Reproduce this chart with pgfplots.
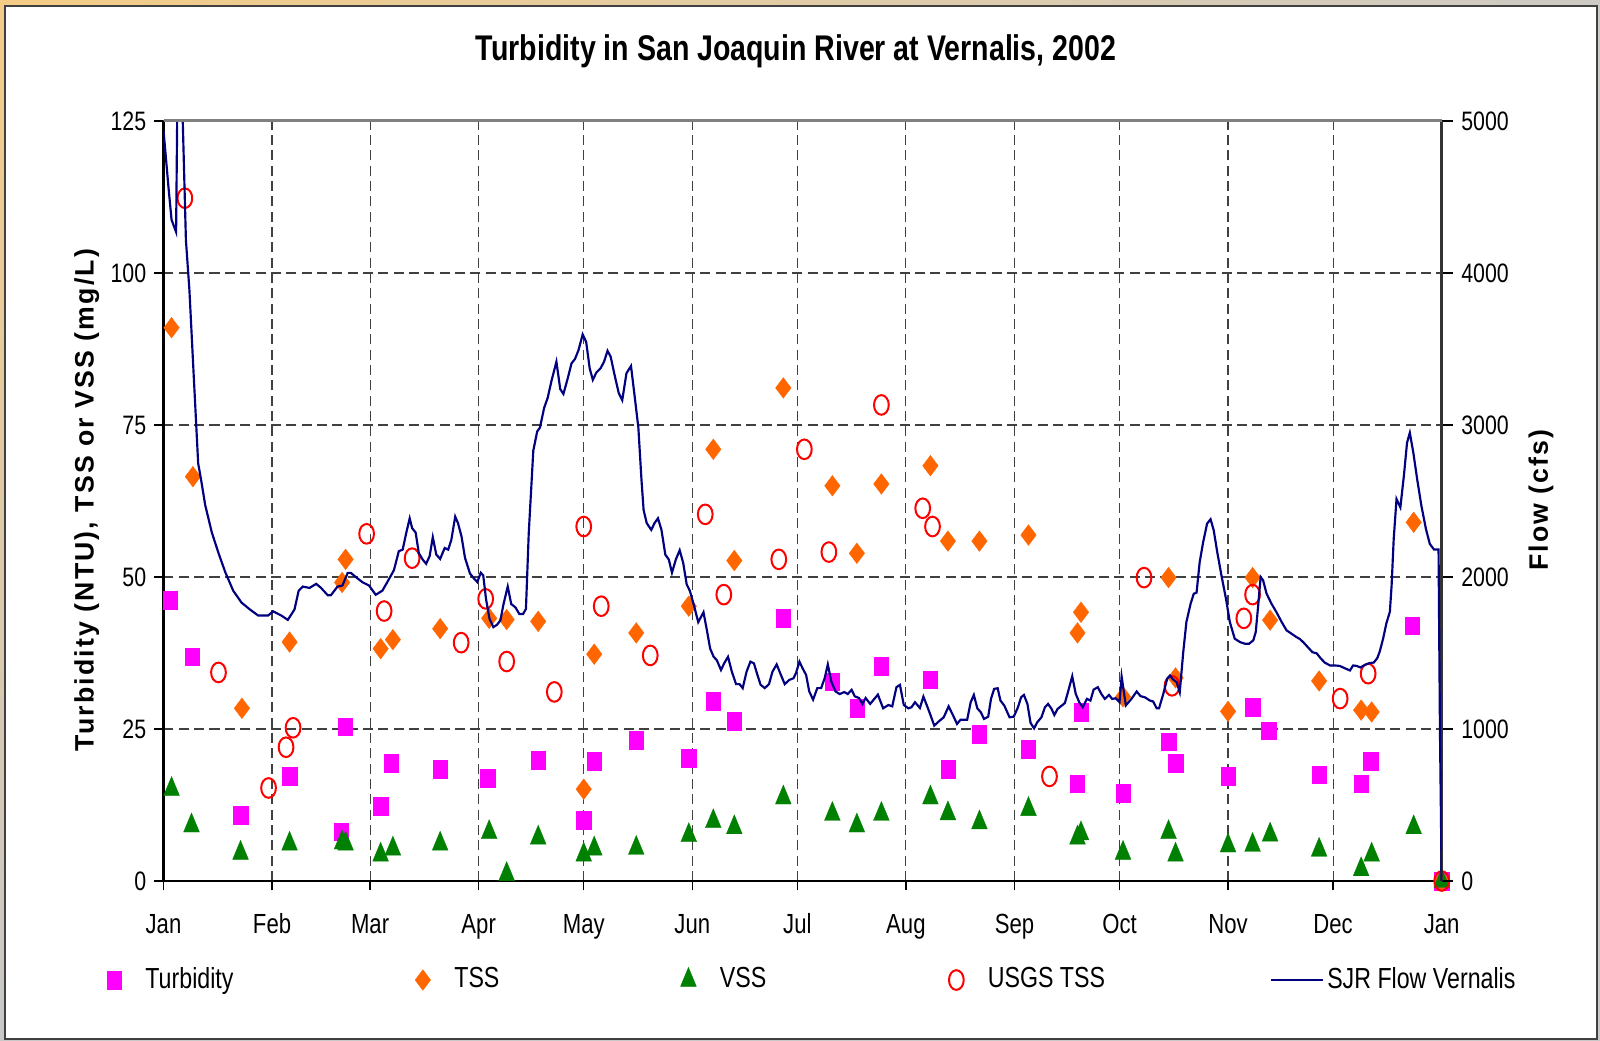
\documentclass[border=0pt]{standalone}
\usepackage{pgfplots}
\pgfplotsset{compat=1.18}
\usetikzlibrary{shadings}
\usepackage{fontspec}
\setmainfont{Liberation Sans}[FakeStretch=0.8]
\newfontfamily\rotfont{Liberation Sans}[LetterSpace=8]
\definecolor{cTurb}{RGB}{255,0,255}
\definecolor{cTss}{RGB}{255,102,0}
\definecolor{cVss}{RGB}{0,128,0}
\definecolor{cUsgs}{RGB}{255,0,0}
\definecolor{cFlow}{RGB}{0,0,128}
\definecolor{bandA}{RGB}{244,204,134}
\definecolor{bandB}{RGB}{206,203,197}
\definecolor{bandC}{RGB}{200,200,200}
\pgfplotsset{
  mlegend/.style={legend image code/.code={%
    \path[draw=none,fill=none] (0cm,-0.1cm) rectangle (0.6cm,0.1cm);
    \draw[mark repeat=2,mark phase=2,##1] plot coordinates {(0cm,0cm) (0.3cm,0cm) (0.6cm,0cm)};}},
  flowlegend/.style={legend image code/.code={%
    \draw[##1] (0cm,0cm) -- (0.54cm,0cm);
    \path[draw=none,fill=none] (0.54cm,0cm) -- (0.59cm,0cm);}},
}
\begin{document}
\begin{tikzpicture}
\shade[upper left=bandA, upper right=bandB, lower left=bandC, lower right=bandC] (0pt,0pt) rectangle (480pt,-312.3pt);
\filldraw[fill=white, draw=black!75, line width=0.6pt] (1.6pt,-1.9pt) rectangle (479.2pt,-311.7pt);
\useasboundingbox (0pt,0pt) rectangle (480pt,-312.3pt);

\node[font=\bfseries\fontsize{10.7}{12}\selectfont] at (238.8pt,-15.3pt) {Turbidity in San Joaquin River at Vernalis, 2002};
\node[rotate=90, font=\rotfont\bfseries\fontsize{8}{9}\selectfont] at (26pt,-150pt) {Turbidity (NTU), TSS or VSS (mg/L)};
\node[rotate=90, font=\rotfont\bfseries\fontsize{8}{9}\selectfont] at (462.3pt,-150pt) {Flow (cfs)};

\begin{axis}[name=ax1,
  at={(49.05pt,-264.3pt)}, anchor=south west,
  scale only axis, width=383.46pt, height=228pt,
  xmin=0, xmax=365, ymin=0, ymax=125,
  axis x line*=bottom, axis y line*=left,
  x axis line style={black, line width=0.8pt},
  y axis line style={black, line width=0.7pt},
  xtick={0,31,59,90,120,151,181,212,243,273,304,334,365},
  xticklabels={Jan,Feb,Mar,Apr,May,Jun,Jul,Aug,Sep,Oct,Nov,Dec,Jan},
  ytick={0,25,50,75,100,125},
  tick align=outside, major tick length=2.8pt,
  tick style={black, line width=0.4pt},
  grid=major,
  major grid style={black!75, line width=0.35pt, dash pattern=on 3pt off 1.6pt},
  /pgf/number format/assume math mode=true,
  xticklabel style={font=\fontsize{8.3}{9}\selectfont, anchor=base, yshift=-12.85pt},
  yticklabel style={font=\fontsize{8}{9}\selectfont, anchor=east, inner sep=0pt, xshift=-2.2pt},
  clip mode=individual,
  legend columns=5,
  legend style={draw=none, fill=none, at={(axis description cs:-0.061,-0.1303)}, anchor=west,
    inner sep=0pt, outer sep=0pt, column sep=0pt, nodes={inner sep=0pt},
    font=\fontsize{8.7}{10}\selectfont},
  legend cell align=left,
]
\addplot[only marks, mlegend, color=cTurb, mark=square*, mark size=2.65pt,
  mark options={xscale=0.81, line width=0.1pt}] coordinates {
(2,46.2)(8.1,36.9)(22,10.8)(36,17.2)(50.7,8.1)(51.8,25.4)(62,12.3)(65,19.4)(79,18.4)(92.6,16.9)
(107,19.9)(120,10.0)(123,19.7)(135,23.2)(150,20.2)(157,29.6)(163,26.3)(177,43.2)(191,32.8)(198,28.4)
(205,35.3)(219,33.1)(224,18.4)(233,24.1)(247,21.7)(261,16.0)(262,27.8)(274,14.5)(287,22.9)(289,19.4)
(304,17.2)(311,28.6)(315.6,24.7)(330,17.5)(342,16.0)(344.7,19.7)(356.6,42.0)(365,0)};
\addlegendentry{\makebox[75.6pt][l]{\hspace{0.9pt}Turbidity}}
\addplot[only marks, mlegend, color=cTss, mark=diamond*, mark size=3.1pt,
  mark options={xscale=1.0, line width=0.1pt}] coordinates {
(2.3,91.0)(8.4,66.5)(22.4,28.4)(36,39.3)(51,49.1)(52,52.9)(62,38.2)(65.5,39.7)(79,41.5)(93,43.2)
(98,43.0)(107,42.7)(120,15.1)(123,37.3)(135,40.8)(150,45.2)(157,71.0)(163,52.7)(177,81.1)(191,65.0)
(198,53.9)(205,65.3)(219,68.3)(224,55.9)(233,55.9)(247,56.9)(261,40.8)(262,44.2)(274,30.3)(287,49.9)
(289,33.4)(304,27.9)(311,49.9)(316,42.9)(330,32.9)(342,28.1)(345,27.8)(357,59.0)(365,0)};
\addlegendentry{\makebox[62.6pt][l]{\hspace{0.9pt}TSS}}
\addplot[only marks, mlegend, color=cVss, mark=triangle*, mark size=3.8pt,
  mark options={xscale=0.72, line width=0.1pt}] coordinates {
(2.3,15.1)(8,9.1)(22,4.6)(36,6.1)(51,6.3)(52,6.1)(62,4.3)(65.5,5.3)(79,6.1)(93,8.0)
(98,1.1)(107,7.1)(120,4.3)(123,5.3)(135,5.4)(150,7.5)(157,9.8)(163,8.8)(177,13.7)(191,11.0)
(198,9.1)(205,11.0)(219,13.7)(224,11.1)(233,9.6)(247,11.8)(261,7.1)(262,7.8)(274,4.6)(287,8.0)
(289,4.3)(304,5.8)(311,5.9)(316,7.6)(330,5.1)(342,1.9)(345,4.3)(357,8.8)(365,0)};
\addlegendentry{\makebox[63.3pt][l]{\hspace{0.9pt}VSS}}
\addplot[only marks, mlegend, color=cUsgs, mark=o, mark size=2.95pt,
  mark options={xscale=0.75, line width=0.6pt}] coordinates {
(6.1,112.3)(15.7,34.3)(30,15.3)(35,22.0)(37,25.2)(58,57.1)(63,44.4)(71,53.1)(85,39.2)(92,46.4)
(98,36.1)(111.6,31.1)(120,58.3)(125,45.2)(139,37.1)(154.7,60.3)(160,47.1)(175.7,52.9)(183,71.0)(190,54.1)
(205,78.3)(216.8,61.3)(219.6,58.3)(253,17.2)(280,49.9)(288,32.1)(308.5,43.2)(311,47.1)(336,30.0)(344,34.1)
(365,0)};
\addlegendentry{\makebox[85.6pt][l]{\hspace{0.9pt}USGS TSS}}
\addlegendimage{color=cFlow, line width=0.7pt, flowlegend}
\addlegendentry{SJR Flow Vernalis}
\end{axis}

\begin{axis}[
  at={(49.05pt,-264.3pt)}, anchor=south west,
  scale only axis, width=383.46pt, height=228pt,
  xmin=0, xmax=365, ymin=0, ymax=5000,
  axis x line=none, axis y line*=right,
  y axis line style={black!80, line width=0.9pt},
  ytick={0,1000,2000,3000,4000,5000},
  scaled y ticks=false,
  tick align=outside, major tick length=3.3pt,
  tick style={black, line width=0.4pt},
  /pgf/number format/assume math mode=true,
  /pgf/number format/1000 sep={},
  yticklabel style={font=\fontsize{8}{9}\selectfont, anchor=west, inner sep=0pt, xshift=2.4pt},
]
\addplot[color=cFlow, line width=0.65pt] coordinates {
(0,4940)(1.4,4570)(2.3,4350)(3.6,4270)(4.6,6700)(5.5,5000)(6.4,4217)(7.4,3888)(8.5,3384)(9.9,2748)
(10.8,2631)(11.9,2474)(13.8,2293)(15.7,2158)(17.6,2034)(19.9,1910)(22.3,1831)(24.7,1786)(27,1747)(29.9,1747)
(31.3,1774)(33.6,1747)(35.5,1718)(37.4,1786)(38.6,1910)(39.8,1937)(41.7,1928)(43.6,1955)(45,1928)(46.9,1880)
(47.8,1880)(49.7,1937)(51.1,1944)(52.6,2027)(53.5,2027)(54.9,2000)(56.8,1966)(58.7,1944)(60.6,1883)(62.5,1910)
(63.9,1966)(65.8,2045)(67.2,2170)(68.3,2180)(69.3,2288)(70.3,2386)(71,2321)(72,2293)(72.9,2158)(74,2115)
(75,2087)(76,2137)(76.9,2262)(77.9,2147)(79,2119)(80.3,2191)(81.3,2180)(82.2,2245)(83.3,2397)(84.1,2354)
(85.1,2267)(86.1,2126)(87.5,2024)(88.7,1989)(89.6,1967)(90.6,2028)(91.3,2011)(92.1,1855)(93.1,1725)(94.2,1670)
(95.2,1685)(96.2,1714)(97.1,1822)(98.3,1937)(99.3,1822)(100.5,1800)(101.6,1757)(102.7,1757)(103.5,1790)(104.3,2288)
(105.6,2831)(106.7,2957)(107.5,2983)(108.7,3113)(109.7,3178)(110.8,3291)(112.2,3416)(113.3,3236)(114.2,3204)(115.4,3304)
(116.5,3405)(117.5,3434)(118.5,3492)(119.7,3596)(120.7,3546)(121.7,3373)(122.6,3297)(123.6,3345)(124.8,3373)(125.8,3416)
(126.8,3488)(127.7,3449)(128.8,3330)(130,3210)(131,3163)(132.2,3340)(133.5,3388)(134.6,3178)(135.6,2983)(136.5,2636)
(137.1,2440)(138,2354)(139.3,2310)(140.2,2354)(141.2,2386)(142.2,2310)(143.3,2147)(144.3,2115)(145.2,2028)(146.3,2115)
(147.4,2176)(148.4,2093)(149.4,1952)(150.3,1909)(151.5,1811)(152.7,1703)(154.2,1768)(155.1,1659)(156.1,1529)(157.1,1475)
(158,1453)(159.2,1388)(160.1,1432)(161.2,1475)(162.3,1377)(163.5,1295)(164.5,1295)(165.4,1269)(166.5,1377)(167.6,1443)
(168.6,1432)(169.6,1356)(170.5,1291)(171.7,1269)(172.9,1295)(173.9,1377)(175.1,1425)(176.3,1356)(177.4,1295)(178.7,1323)
(179.9,1334)(180.6,1367)(181.6,1443)(182.5,1399)(183.5,1356)(184.4,1247)(185.5,1193)(186.7,1269)(187.8,1269)(188.8,1334)
(189.7,1425)(190.7,1312)(191.9,1247)(193.1,1230)(194.4,1243)(195.4,1230)(196.5,1258)(197.4,1215)(198.6,1204)(199.6,1165)
(200.5,1204)(201.8,1165)(202.8,1193)(204,1226)(205.5,1136)(207,1158)(208.1,1149)(209.3,1275)(210.3,1290)(211.4,1158)
(212.7,1136)(213.6,1143)(214.6,1176)(216,1138)(217,1213)(218,1154)(218.9,1099)(220.1,1022)(221.3,1048)(222.8,1077)
(224.2,1149)(225.5,1088)(226.6,1033)(227.6,1061)(229.5,1061)(230.5,1176)(231.4,1224)(232.4,1136)(233.4,1110)(234.3,1066)
(235.5,1081)(236.3,1198)(237.2,1264)(238.2,1268)(239,1187)(240.1,1154)(241.6,1077)(242.8,1081)(244,1143)(244.9,1209)
(245.7,1224)(246.7,1165)(247.6,1040)(248.6,1004)(249.5,1044)(250.7,1077)(251.7,1143)(252.6,1165)(253.6,1132)(254.4,1092)
(255.3,1132)(256.5,1154)(257.4,1171)(258.4,1253)(259.5,1347)(260.5,1231)(261.5,1176)(262.5,1143)(263.7,1198)(264.7,1187)
(265.6,1259)(266.8,1275)(267.8,1231)(268.8,1198)(270,1224)(270.9,1198)(271.9,1202)(273,1176)(273.6,1345)(274.8,1155)
(276.4,1198)(277.9,1247)(279,1216)(280.2,1209)(281.7,1187)(282.6,1181)(283.6,1137)(284.3,1137)(285.5,1231)(286.6,1330)
(287.4,1352)(288.3,1326)(289.3,1308)(290.2,1242)(291.2,1506)(292.1,1704)(293.3,1824)(294.2,1890)(295,1897)(295.9,2099)
(296.9,2231)(298,2351)(299,2380)(299.9,2307)(300.9,2165)(302.1,2011)(303.4,1857)(304.5,1704)(305.9,1594)(307.4,1572)
(308.8,1561)(310,1561)(311.2,1583)(311.9,1638)(312.6,1813)(313.3,2000)(314,1978)(315,1890)(316.4,1824)(317.8,1769)
(319.3,1704)(320.7,1649)(322.1,1627)(323.5,1605)(324.5,1592)(325.6,1568)(326.9,1535)(328.1,1505)(329.3,1498)(330.4,1466)
(331.6,1437)(333.1,1418)(334.5,1418)(335.9,1415)(337.3,1400)(338.8,1385)(339.7,1418)(340.7,1415)(341.8,1405)(343.1,1422)
(344.3,1433)(345.6,1437)(346.6,1466)(347.3,1509)(348.3,1597)(349.2,1695)(350.2,1771)(350.7,1945)(351.3,2251)(352.1,2513)
(353.2,2458)(354.2,2665)(355.1,2883)(355.9,2949)(356.9,2818)(358,2643)(359.2,2469)(360.5,2316)(361.6,2218)(362.8,2181)
(364.1,2181)(364.5,1000)(365,0)};
\end{axis}
\draw[black!50, line width=0.9pt] (ax1.north west) -- (ax1.north east);
\end{tikzpicture}
\end{document}
